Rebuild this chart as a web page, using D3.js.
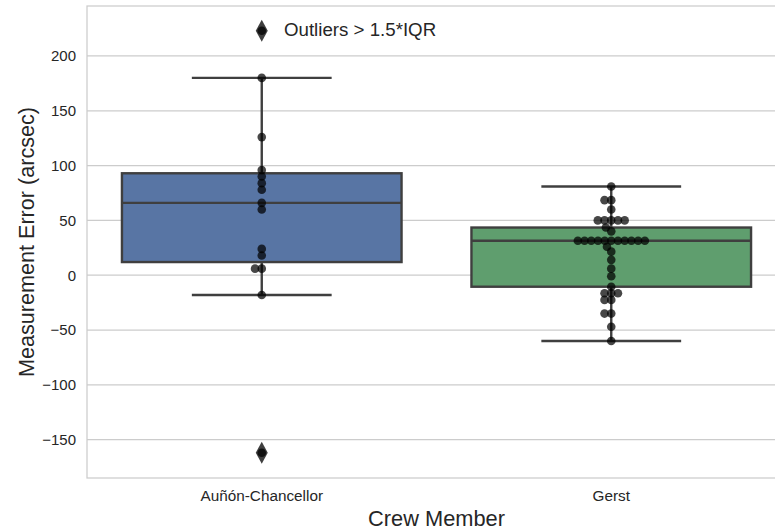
<!DOCTYPE html>
<html>
<head>
<meta charset="utf-8">
<script src="https://cdn.jsdelivr.net/npm/d3@7"></script>
<style>
  html, body { margin: 0; padding: 0; background: #ffffff; }
  svg { display: block; font-family: "Liberation Sans", Arial, sans-serif; }
</style>
</head>
<body>
<svg id="chart" width="775" height="531"></svg>
<script>
// Crew members on the x axis
const categories = ["Auñón-Chancellor", "Gerst"];

// Measurement errors (arcsec) per crew member
const aunonValues = [223, 180, 126, 96, 90, 84, 78, 66, 60, 24, 18, 6, 6, -18, -162];
const gerstValues = [81, 68.5, 68.5, 60, 50, 50, 50, 50, 50, 43.5, 40,
  31.5, 31.5, 31.5, 31.5, 31.5, 31.5, 31.5, 31.5, 31.5, 31.5, 31.5,
  26, 21.5, 14, 6, -1, -10.5, -16.5, -16.5, -16.5, -22.5, -22.5, -35, -35, -47, -60];

const boxColors = ["#5875a4", "#5f9e6e"];
const yTicks = [-150, -100, -50, 0, 50, 100, 150, 200];
const annotationText = "Outliers > 1.5*IQR";

const W = 775, H = 531;
const plot = { left: 87, right: 786, top: 6, bottom: 478 };
const lineColor = "#3f3f3f";
const gridColor = "#cccccc";
const textColor = "#262626";
const lw = 2.4;

const svg = d3.select("#chart");

const x = d3.scaleBand().domain(categories).range([plot.left, plot.right]).padding(0);
const y = d3.scaleLinear().domain([-185, 245.6]).range([plot.bottom, plot.top]);

// Grid lines
svg.append("g")
  .selectAll("line")
  .data(yTicks)
  .join("line")
  .attr("x1", plot.left).attr("x2", plot.right)
  .attr("y1", d => y(d)).attr("y2", d => y(d))
  .attr("stroke", gridColor).attr("stroke-width", 1.25);

// Frame
svg.append("rect")
  .attr("x", plot.left).attr("y", plot.top)
  .attr("width", plot.right - plot.left).attr("height", plot.bottom - plot.top)
  .attr("fill", "none").attr("stroke", gridColor).attr("stroke-width", 1.25);

// Y axis ticks
const yAxis = d3.axisLeft(y).tickValues(yTicks).tickSize(0).tickPadding(11)
  .tickFormat(d => d3.format("")(d).replace("-", "\u2212"));
const gy = svg.append("g").attr("transform", `translate(${plot.left},0)`).call(yAxis);
gy.select(".domain").remove();
gy.selectAll("text").attr("font-size", 15).attr("fill", textColor)
  .attr("font-family", "Liberation Sans, Arial, sans-serif");

// X axis ticks
const xAxis = d3.axisBottom(x).tickSize(0).tickPadding(12);
const gx = svg.append("g").attr("transform", `translate(0,${plot.bottom})`).call(xAxis);
gx.select(".domain").remove();
gx.selectAll("text").attr("font-size", 15.3).attr("fill", textColor)
  .attr("font-family", "Liberation Sans, Arial, sans-serif");

// Axis titles
svg.append("text")
  .attr("transform", `translate(34,${(plot.top + plot.bottom) / 2}) rotate(-90)`)
  .attr("text-anchor", "middle").attr("font-size", 21.6).attr("fill", textColor)
  .text("Measurement Error (arcsec)");
svg.append("text")
  .attr("x", 436.5).attr("y", 526)
  .attr("text-anchor", "middle").attr("font-size", 21.8).attr("fill", textColor)
  .text("Crew Member");

// Box statistics (Tukey whiskers at 1.5 * IQR)
function boxStats(values) {
  const s = values.slice().sort(d3.ascending);
  const q1 = d3.quantile(s, 0.25), med = d3.quantile(s, 0.5), q3 = d3.quantile(s, 0.75);
  const iqr = q3 - q1;
  const lo = q1 - 1.5 * iqr, hi = q3 + 1.5 * iqr;
  const inside = s.filter(v => v >= lo && v <= hi);
  return {
    q1, med, q3,
    wLow: d3.min(inside), wHigh: d3.max(inside),
    fliers: s.filter(v => v < lo || v > hi)
  };
}

const groups = [aunonValues, gerstValues];
const boxW = x.bandwidth() * 0.8;

groups.forEach((vals, i) => {
  const st = boxStats(vals);
  const cx = x(categories[i]) + x.bandwidth() / 2;
  const g = svg.append("g");
  // whiskers
  g.append("line").attr("x1", cx).attr("x2", cx).attr("y1", y(st.q3)).attr("y2", y(st.wHigh))
    .attr("stroke", lineColor).attr("stroke-width", lw);
  g.append("line").attr("x1", cx).attr("x2", cx).attr("y1", y(st.q1)).attr("y2", y(st.wLow))
    .attr("stroke", lineColor).attr("stroke-width", lw);
  [st.wHigh, st.wLow].forEach(v => {
    g.append("line").attr("x1", cx - boxW / 4).attr("x2", cx + boxW / 4)
      .attr("y1", y(v)).attr("y2", y(v)).attr("stroke", lineColor).attr("stroke-width", lw);
  });
  // box
  g.append("rect").attr("x", cx - boxW / 2).attr("y", y(st.q3))
    .attr("width", boxW).attr("height", y(st.q1) - y(st.q3))
    .attr("fill", boxColors[i]).attr("stroke", lineColor).attr("stroke-width", lw);
  // median
  g.append("line").attr("x1", cx - boxW / 2).attr("x2", cx + boxW / 2)
    .attr("y1", y(st.med)).attr("y2", y(st.med)).attr("stroke", lineColor).attr("stroke-width", lw);
  // fliers (thin diamonds)
  g.selectAll("path.flier").data(st.fliers).join("path")
    .attr("class", "flier")
    .attr("d", d => `M${cx},${y(d) - 11} L${cx + 6},${y(d)} L${cx},${y(d) + 11} L${cx - 6},${y(d)} Z`)
    .attr("fill", lineColor).attr("stroke", "none");
});

// Beeswarm layout in pixel space
function beeswarm(pixYs, midX, r) {
  const order = pixYs.map((py, i) => ({ py, i })).sort((a, b) => b.py - a.py); // ascending value
  const placed = [];
  const out = new Array(pixYs.length);
  order.forEach((p, k) => {
    let pos;
    if (k === 0) {
      pos = { x: midX, y: p.py };
    } else {
      const neighbors = [];
      for (let j = placed.length - 1; j >= 0; j--) {
        if (Math.abs(p.py - placed[j].y) < 2 * r) neighbors.push(placed[j]);
        else break;
      }
      const cands = [{ x: midX, y: p.py }];
      let leftFirst = true;
      neighbors.forEach(nb => {
        const dy = p.py - nb.y;
        const dx = Math.sqrt(Math.max(4 * r * r - dy * dy, 0)) * 1.05;
        const a = { x: nb.x - dx, y: p.py }, b = { x: nb.x + dx, y: p.py };
        if (leftFirst) cands.push(a, b); else cands.push(b, a);
        leftFirst = !leftFirst;
      });
      const sorted = cands.map((c, idx) => ({ c, idx }))
        .sort((a, b) => (Math.abs(a.c.x - midX) - Math.abs(b.c.x - midX)) || (a.idx - b.idx))
        .map(o => o.c);
      pos = sorted.find(c => neighbors.every(nb =>
        (nb.x - c.x) ** 2 + (nb.y - c.y) ** 2 >= (2 * r) ** 2 - 1e-6)) || sorted[sorted.length - 1];
    }
    placed.push(pos);
    out[p.i] = pos;
  });
  return out;
}

groups.forEach((vals, i) => {
  const cx = x(categories[i]) + x.bandwidth() / 2;
  const pts = beeswarm(vals.map(v => y(v)), cx, 3.2);
  svg.append("g").selectAll("circle").data(pts).join("circle")
    .attr("cx", d => d.x).attr("cy", d => d.y).attr("r", 4.3)
    .attr("fill", "#000000").attr("fill-opacity", 0.72);
});

// Annotation next to the upper outlier
svg.append("text")
  .attr("x", 284).attr("y", 36)
  .attr("font-size", 18.7).attr("fill", textColor)
  .text(annotationText);
</script>
</body>
</html>
